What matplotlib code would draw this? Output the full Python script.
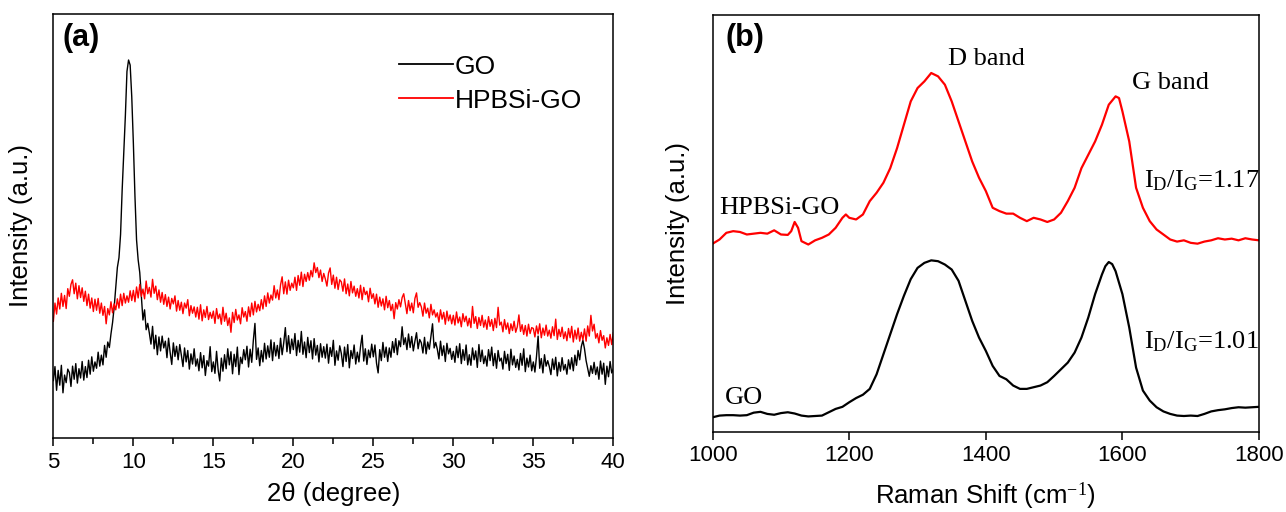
import matplotlib
matplotlib.use("Agg")
import matplotlib.pyplot as plt
import numpy as np
from matplotlib.ticker import MultipleLocator

# ---------------- XRD data (panel a), 2-theta step 0.1 deg from 5.0 to 40.0 ----------------
two_theta_start = 5.0
two_theta_step = 0.1

xrd_go = [
    13.5, 16.8, 11.2, 15.9, 12.4, 17.1, 10.6, 14.8, 13.0, 16.2,
    15.4, 12.1, 16.9, 13.8, 17.5, 12.9, 16.3, 14.1, 18.0, 13.6,
    16.8, 14.2, 18.3, 15.0, 19.1, 15.7, 17.9, 16.4, 20.2, 16.9,
    19.5, 17.2, 21.8, 19.0, 22.6, 21.3, 24.5, 27.2, 30.8, 35.5,
    40.2, 42.5, 48.0, 58.5, 67.0, 76.0, 86.5, 89.2, 88.0, 80.5,
    69.6, 57.0, 46.7, 42.0, 39.0, 33.5, 27.8, 30.2, 25.5, 27.0,
    24.7, 22.1, 26.3, 21.0, 24.2, 19.6, 23.8, 20.5, 24.0, 21.2,
    22.8, 18.9, 23.5, 20.1, 17.3, 22.4, 19.2, 21.6, 18.4, 22.0,
    19.5, 16.8, 21.2, 17.9, 20.6, 16.2, 19.8, 17.4, 21.0, 16.9,
    18.6, 15.8, 20.1, 16.5, 19.4, 14.7, 18.2, 16.9, 21.5, 15.6,
    17.9, 15.2, 20.4, 16.0, 13.4, 18.8, 15.7, 19.6, 16.3, 21.0,
    17.2, 20.3, 15.1, 19.7, 16.8, 21.4, 14.9, 19.0, 17.5, 20.8,
    18.4, 21.6, 16.7, 20.9, 17.8, 23.0, 27.0, 18.5, 21.2, 17.0,
    20.6, 17.9, 22.3, 18.6, 21.7, 19.0, 23.1, 18.2, 22.5, 19.3,
    21.8, 18.7, 23.5, 19.6, 22.4, 26.0, 20.3, 24.1, 19.9, 23.3,
    20.8, 24.6, 19.4, 23.0, 20.2, 25.1, 19.7, 22.6, 18.9, 23.7,
    20.1, 22.9, 18.6, 23.4, 19.5, 21.8, 17.9, 22.2, 19.0, 21.5,
    18.8, 22.1, 17.6, 21.3, 19.2, 23.0, 17.1, 20.5, 18.3, 21.7,
    19.9, 16.8, 21.4, 18.0, 22.0, 16.5, 20.6, 18.7, 21.9, 17.4,
    20.2, 17.9, 21.5, 24.2, 18.1, 21.0, 17.3, 20.7, 18.9, 22.1,
    19.1, 21.9, 17.6, 15.3, 20.8, 18.2, 22.5, 19.0, 21.4, 18.0,
    21.2, 19.0, 22.7, 20.1, 23.4, 19.6, 22.9, 21.5, 26.2, 22.0,
    23.6, 20.8, 24.5, 21.3, 23.9, 20.5, 22.8, 24.8, 21.0, 23.2,
    22.4, 20.0, 23.7, 19.8, 22.6, 20.9, 24.0, 26.9, 21.2, 22.5,
    20.9, 18.6, 22.8, 19.4, 21.7, 18.0, 22.3, 19.8, 21.1, 18.5,
    20.4, 17.8, 21.6, 18.9, 22.2, 17.5, 20.8, 18.3, 21.9, 17.2,
    19.6, 17.1, 21.2, 18.4, 20.5, 16.6, 22.0, 18.0, 20.7, 17.5,
    19.3, 16.9, 20.8, 18.2, 21.4, 17.0, 19.9, 16.4, 20.6, 18.1,
    18.8, 16.2, 20.4, 17.5, 19.7, 15.9, 20.9, 17.2, 19.3, 16.6,
    18.5, 16.0, 19.9, 17.1, 21.0, 15.6, 18.8, 16.7, 19.5, 15.8,
    17.9, 15.5, 19.2, 24.0, 16.4, 18.7, 15.3, 19.6, 16.9, 18.2,
    16.8, 14.9, 18.6, 16.1, 19.0, 14.6, 17.8, 15.7, 18.9, 16.0,
    17.3, 15.0, 18.4, 16.2, 18.9, 15.8, 19.5, 17.1, 20.6, 18.4,
    21.5, 23.0, 21.0, 18.2, 16.4, 14.5, 17.0, 15.2, 17.8, 14.9,
    16.7, 13.8, 18.1, 15.0, 17.6, 12.6, 16.9, 14.4, 18.0, 15.3,
    16.2,
]

xrd_hpbsi_go = [
    27.5, 31.8, 29.2, 33.0, 30.4, 34.1, 31.0, 33.6, 30.5, 35.2,
    33.4, 36.2, 37.3, 34.0, 36.5, 32.8, 35.9, 33.1, 35.4, 32.2,
    34.6, 31.2, 33.9, 30.6, 33.0, 29.8, 32.7, 30.1, 32.9, 29.4,
    31.8, 28.9, 31.0, 26.9, 30.5, 29.0, 32.1, 29.5, 31.6, 30.2,
    32.8, 30.6, 33.9, 31.2, 34.1, 31.8, 33.5, 32.0, 34.7, 32.4,
    34.8, 32.1, 35.6, 33.0, 36.2, 33.4, 35.1, 32.8, 37.0, 34.0,
    35.5, 33.2, 37.4, 34.1, 35.8, 32.6, 34.9, 32.0, 34.3, 31.5,
    33.8, 31.0, 33.2, 30.4, 32.9, 31.6, 33.5, 29.9, 32.4, 30.1,
    32.0, 29.3, 31.8, 30.6, 32.6, 28.8, 31.2, 29.4, 30.9, 28.5,
    30.8, 28.0, 31.4, 27.6, 30.2, 28.4, 31.0, 27.9, 29.6, 28.2,
    29.9, 27.0, 30.5, 28.1, 29.2, 26.8, 30.8, 27.5, 29.4, 26.5,
    28.3, 24.9, 29.6, 27.2, 30.3, 27.8, 29.0, 26.9, 30.7, 28.5,
    29.8, 27.5, 30.9, 28.6, 31.8, 29.0, 32.2, 29.7, 31.5, 30.0,
    32.6, 30.4, 33.5, 31.0, 34.2, 31.8, 33.7, 32.5, 35.9, 33.0,
    34.9, 32.6, 36.1, 38.0, 34.0, 36.8, 33.9, 37.2, 34.8, 36.5,
    35.4, 37.9, 34.8, 38.3, 36.0, 39.1, 35.7, 38.6, 36.9, 39.0,
    37.2, 39.5, 38.0, 41.3, 39.0, 40.2, 37.8, 39.6, 36.9, 38.8,
    37.5, 35.8, 38.9, 40.1, 36.2, 38.4, 35.3, 37.9, 35.0, 37.3,
    36.8, 34.6, 37.5, 34.0, 36.3, 33.5, 36.9, 34.2, 35.8, 33.4,
    35.2, 33.0, 36.0, 32.6, 35.5, 33.8, 34.6, 32.1, 35.3, 32.9,
    34.0, 31.6, 33.9, 30.8, 33.2, 31.1, 32.8, 30.2, 33.4, 30.7,
    32.4, 30.0, 31.5, 28.1, 31.9, 30.4, 32.6, 30.9, 33.1, 34.0,
    31.6, 29.3, 32.4, 30.0, 31.8, 29.5, 32.9, 34.2, 30.8, 31.9,
    30.9, 28.7, 31.8, 29.4, 30.6, 28.3, 31.5, 29.0, 30.2, 28.5,
    29.5, 27.3, 30.2, 28.0, 29.6, 26.8, 29.9, 27.6, 29.0, 26.9,
    28.9, 26.6, 29.7, 27.1, 28.5, 26.2, 29.3, 27.4, 28.7, 26.4,
    28.2, 26.0, 31.0, 27.0, 28.6, 25.8, 28.4, 26.5, 28.9, 26.1,
    27.8, 25.6, 28.6, 26.3, 27.9, 25.3, 28.2, 26.0, 30.8, 26.6,
    27.3, 25.0, 27.9, 25.6, 27.1, 24.6, 26.9, 25.3, 27.5, 24.9,
    26.2, 29.0, 25.1, 26.7, 24.4, 26.5, 24.0, 26.8, 24.6, 26.0,
    25.8, 23.8, 26.4, 24.5, 26.9, 23.6, 25.9, 24.2, 26.6, 24.0,
    25.4, 23.5, 26.2, 24.1, 28.0, 23.2, 25.6, 23.9, 26.1, 23.4,
    25.0, 22.9, 25.8, 23.6, 26.3, 22.6, 25.4, 23.3, 25.9, 22.8,
    24.9, 23.1, 25.7, 22.8, 26.4, 24.0, 28.9, 25.2, 26.8, 23.5,
    24.6, 22.4, 25.3, 23.0, 24.1, 21.2, 23.6, 21.8, 24.4, 22.0,
    24.8,
]

# ---------------- Raman data (panel b) ----------------
raman_shift_go = [
    1000, 1010, 1020, 1030, 1040, 1050, 1060, 1070, 1080, 1090,
    1100, 1110, 1120, 1130, 1140, 1150, 1160, 1170, 1180, 1190,
    1200, 1210, 1220, 1230, 1240, 1250, 1260, 1270, 1280, 1290,
    1300, 1310, 1320, 1330, 1340, 1350, 1360, 1370, 1380, 1390,
    1400, 1410, 1420, 1430, 1440, 1450, 1460, 1470, 1480, 1490,
    1500, 1510, 1520, 1530, 1540, 1550, 1560, 1570, 1575, 1580,
    1585, 1590, 1600, 1610, 1620, 1630, 1640, 1650, 1660, 1670,
    1680, 1690, 1700, 1710, 1720, 1730, 1740, 1750, 1760, 1770,
    1780, 1790, 1800,
]
raman_go = [
    3.6, 4.0, 4.1, 4.1, 4.0, 4.1, 4.7, 4.9, 4.4, 4.2,
    4.6, 4.8, 4.5, 4.0, 3.8, 3.9, 4.0, 4.8, 5.6, 6.1,
    7.2, 8.2, 9.0, 10.4, 13.9, 18.7, 23.5, 28.3, 32.7, 36.7,
    39.4, 40.6, 41.2, 41.0, 40.2, 39.0, 36.3, 31.5, 26.7, 22.7,
    19.5, 15.9, 13.5, 12.7, 11.2, 10.4, 10.4, 10.8, 11.2, 12.0,
    13.5, 15.1, 16.7, 19.1, 22.7, 27.5, 33.1, 37.8, 39.8, 40.8,
    40.3, 38.6, 33.1, 25.1, 15.5, 10.0, 7.6, 6.0, 5.0, 4.4,
    4.0, 3.9, 4.0, 3.9, 4.4, 5.0, 5.3, 5.5, 5.8, 6.0,
    5.9, 6.0, 6.1,
]

raman_shift_hpbsi_go = [
    1000, 1010, 1020, 1030, 1040, 1050, 1060, 1070, 1080, 1090,
    1100, 1110, 1115, 1120, 1125, 1130, 1140, 1150, 1160, 1170,
    1180, 1190, 1195, 1200, 1210, 1220, 1230, 1240, 1250, 1260,
    1270, 1280, 1290, 1300, 1310, 1320, 1330, 1340, 1350, 1360,
    1370, 1380, 1390, 1400, 1410, 1420, 1430, 1440, 1450, 1460,
    1470, 1480, 1490, 1500, 1510, 1520, 1530, 1540, 1550, 1560,
    1570, 1580, 1590, 1595, 1600, 1610, 1620, 1630, 1640, 1650,
    1660, 1670, 1680, 1690, 1700, 1710, 1720, 1730, 1740, 1750,
    1760, 1770, 1780, 1790, 1800,
]
raman_hpbsi_go = [
    45.2, 46.2, 47.8, 48.2, 48.0, 47.4, 47.6, 47.8, 47.6, 48.4,
    47.4, 47.3, 48.2, 50.4, 49.0, 45.8, 45.0, 46.0, 46.6, 47.4,
    49.0, 51.4, 52.2, 51.4, 51.0, 52.2, 55.4, 57.4, 59.8, 63.3,
    68.1, 73.7, 79.3, 82.5, 84.1, 86.1, 85.3, 83.3, 79.3, 74.5,
    69.7, 64.9, 61.0, 57.8, 53.8, 53.0, 52.4, 52.4, 51.4, 50.6,
    51.4, 51.0, 50.4, 51.0, 52.6, 55.4, 58.6, 63.3, 66.5, 69.7,
    73.7, 78.5, 80.5, 80.1, 76.9, 69.7, 58.6, 53.8, 50.6, 48.6,
    47.4, 46.2, 45.7, 46.0, 45.4, 45.2, 45.7, 46.0, 46.5, 46.2,
    46.4, 46.0, 46.5, 46.2, 46.0,
]

ratio_go = "1.01"
ratio_hpbsi_go = "1.17"

xrd_ticks = [5, 10, 15, 20, 25, 30, 35, 40]
raman_ticks = [1000, 1200, 1400, 1600, 1800]

sans = ["Liberation Sans", "DejaVu Sans"]
serif = ["Liberation Serif", "DejaVu Serif"]
plt.rcParams["font.family"] = sans
plt.rcParams["mathtext.fontset"] = "custom"
plt.rcParams["mathtext.rm"] = "Liberation Serif"
plt.rcParams["mathtext.it"] = "Liberation Serif:italic"

fig = plt.figure(figsize=(12.86, 5.12), dpi=100)
ax_a = fig.add_axes([0.0415, 0.1451, 0.4354, 0.8270])
ax_b = fig.add_axes([0.5542, 0.1557, 0.4248, 0.8150])

label_size = 18.5

# ---------- panel (a): XRD ----------
two_theta = two_theta_start + two_theta_step * np.arange(len(xrd_go))
ax_a.plot(two_theta, xrd_go, color="black", lw=1.0, label="GO")
ax_a.plot(two_theta, xrd_hpbsi_go, color="#ff0000", lw=1.0, label="HPBSi-GO")
ax_a.set_xlim(5, 40)
ax_a.set_ylim(0, 100)
ax_a.set_xticks(xrd_ticks)
ax_a.xaxis.set_minor_locator(MultipleLocator(2.5))
ax_a.set_yticks([])
ax_a.tick_params(axis="x", which="major", direction="out", length=6, width=1.1,
                 labelsize=16, pad=4)
ax_a.tick_params(axis="x", which="minor", direction="out", length=4, width=1.1)
ax_a.set_xlabel("2θ (degree)", fontsize=label_size)
ax_a.xaxis.set_label_coords(0.5, -0.105)
ax_a.set_ylabel("Intensity (a.u.)", fontsize=label_size)
ax_a.yaxis.set_label_coords(-0.037, 0.5)
ax_a.text(0.017, 0.945, "(a)", transform=ax_a.transAxes, fontsize=22,
          fontweight="bold", va="center", ha="left")
leg = ax_a.legend(loc="upper left", bbox_to_anchor=(0.617, 0.905), frameon=False,
                  fontsize=19, handlelength=2.05, handletextpad=0.08,
                  labelspacing=0.38, borderaxespad=0, borderpad=0)
for line in leg.get_lines():
    line.set_linewidth(1.3)

# ---------- panel (b): Raman ----------
ax_b.plot(raman_shift_go, raman_go, color="black", lw=1.6)
ax_b.plot(raman_shift_hpbsi_go, raman_hpbsi_go, color="#ff0000", lw=1.6)
ax_b.set_xlim(1000, 1800)
ax_b.set_ylim(0, 100)
ax_b.set_xticks(raman_ticks)
ax_b.set_yticks([])
ax_b.tick_params(axis="x", direction="out", length=6, width=1.1, labelsize=16, pad=3)
ax_b.set_xlabel("Raman Shift (cm$^{-1}$)", fontsize=label_size)
ax_b.xaxis.set_label_coords(0.5, -0.115)
ax_b.set_ylabel("Intensity (a.u.)", fontsize=label_size)
ax_b.yaxis.set_label_coords(-0.042, 0.5)
ax_b.text(0.024, 0.945, "(b)", transform=ax_b.transAxes, fontsize=22,
          fontweight="bold", va="center", ha="left")

ann = dict(fontsize=19, family=serif)
ax_b.text(1401, 88, "D band", ha="center", va="baseline", **ann)
ax_b.text(1671, 82.3, "G band", ha="center", va="baseline", **ann)
ax_b.text(1010, 52.4, "HPBSi-GO", ha="left", va="baseline", **ann)
ax_b.text(1018, 6.8, "GO", ha="left", va="baseline", **ann)
ax_b.text(1632, 58.8, r"I$_\mathrm{D}$/I$_\mathrm{G}$=" + ratio_hpbsi_go,
          ha="left", va="baseline", **ann)
ax_b.text(1632, 20.0, r"I$_\mathrm{D}$/I$_\mathrm{G}$=" + ratio_go,
          ha="left", va="baseline", **ann)

for ax in (ax_a, ax_b):
    for sp in ax.spines.values():
        sp.set_linewidth(1.1)

fig.savefig("out.png", dpi=100, facecolor="white")
